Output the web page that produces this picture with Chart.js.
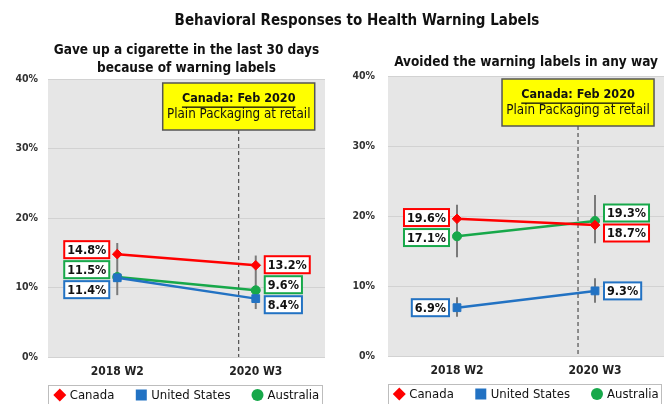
<!DOCTYPE html>
<html>
<head>
<meta charset="utf-8">
<script src="https://cdn.jsdelivr.net/npm/chart.js@4"></script>
<style>
  html, body { margin: 0; padding: 0; background: #fff; }
  #wrap { position: relative; width: 672px; height: 404px; overflow: hidden; }
  #title { position: absolute; left: 0; top: 11px; width: 714px; text-align: center;
           font: bold 15px "DejaVu Sans Condensed", "DejaVu Sans", sans-serif; color: #111; }
  .panel { position: absolute; top: 0; width: 336px; height: 404px; }
</style>
</head>
<body>
<div id="wrap">
  <div class="panel" style="left:0"><canvas id="chartLeft" width="336" height="404"></canvas></div>
  <div class="panel" style="left:336px"><canvas id="chartRight" width="336" height="404"></canvas></div>
  <div id="title">Behavioral Responses to Health Warning Labels</div>
</div>
<script>
const FONT = '"DejaVu Sans Condensed", "DejaVu Sans", sans-serif';

// survey waves
const waves = ['2018 W2', '2020 W3'];
const yTicks = [0, 10, 20, 30, 40];
const policyAt = 0.877; // Feb 2020, in wave units

// gave up a cigarette in the last 30 days (%)
const gaveUpCanada = [14.8, 13.2];
const gaveUpUS = [11.4, 8.4];
const gaveUpAustralia = [11.5, 9.6];
const gaveUpCI = [[[8.9, 16.4]], [[6.9, 14.6]]];

// avoided the warning labels in any way (%)
const avoidCanada = [19.6, 18.7];
const avoidUS = [6.9, 9.3];
const avoidAustralia = [17.1, 19.3];
const avoidCI = [[[14.1, 21.6], [5.6, 8.4]], [[16.1, 23.0], [7.6, 11.1]]];

const RED = '#ff0000', BLUE = '#2272c3', GREEN = '#17a84a';

Chart.defaults.font.family = FONT;
Chart.defaults.color = '#222';

const plotBg = {
  id: 'plotBg',
  beforeDraw(chart) {
    const a = chart.chartArea, ctx = chart.ctx;
    ctx.save();
    ctx.fillStyle = '#e6e6e6';
    ctx.fillRect(a.left, a.top, a.right - a.left, a.bottom - a.top);
    ctx.restore();
  }
};

// grey whiskers + policy marker
const extras = {
  id: 'extras',
  beforeDatasetsDraw(chart, args, opts) {
    const ctx = chart.ctx, x = chart.scales.x, y = chart.scales.y, a = chart.chartArea;
    ctx.save();
    // policy line
    const px = x.getPixelForValue(policyAt);
    const boxTop = a.top + opts.boxTop, boxH = 47, boxW = 152;
    ctx.strokeStyle = '#333';
    ctx.lineWidth = 1;
    ctx.setLineDash([4, 3]);
    ctx.beginPath();
    ctx.moveTo(px, boxTop + boxH);
    ctx.lineTo(px, a.bottom);
    ctx.stroke();
    ctx.setLineDash([]);
    // box
    const bx = px - boxW / 2;
    ctx.fillStyle = '#ffff00';
    ctx.fillRect(bx, boxTop, boxW, boxH);
    ctx.strokeStyle = '#555';
    ctx.lineWidth = 1.5;
    ctx.strokeRect(bx, boxTop, boxW, boxH);
    ctx.fillStyle = '#111';
    ctx.textAlign = 'center';
    ctx.textBaseline = 'middle';
    ctx.font = 'bold 12.5px ' + FONT;
    const t1 = 'Canada: Feb 2020';
    ctx.fillText(t1, px, boxTop + 16);
    const w1 = ctx.measureText(t1).width;
    ctx.fillRect(px - w1 / 2, boxTop + 23.5, w1, 1.3);
    ctx.font = '13.3px ' + FONT;
    ctx.fillText('Plain Packaging at retail', px, boxTop + 32);
    // whiskers
    ctx.strokeStyle = '#7a7a7a';
    ctx.lineWidth = 2;
    opts.ci.forEach((ranges, i) => {
      const cx = x.getPixelForValue(i);
      ranges.forEach(r => {
        ctx.beginPath();
        ctx.moveTo(cx, y.getPixelForValue(r[0]));
        ctx.lineTo(cx, y.getPixelForValue(r[1]));
        ctx.stroke();
      });
    });
    ctx.restore();
  }
};

function spread(items, gap) {
  let groups = items.map(it => ({ members: [it], c: it.y }));
  let merged = true;
  while (merged) {
    merged = false;
    for (let k = 0; k < groups.length - 1; k++) {
      const a = groups[k], b = groups[k + 1];
      const aBottom = a.c + (a.members.length - 1) * gap / 2;
      const bTop = b.c - (b.members.length - 1) * gap / 2;
      if (bTop - aBottom < gap) {
        const members = a.members.concat(b.members);
        const c = members.reduce((s, m) => s + m.y, 0) / members.length;
        groups.splice(k, 2, { members, c });
        merged = true;
        break;
      }
    }
  }
  groups.forEach(g => g.members.forEach((m, j) => {
    m.ly = g.c + (j - (g.members.length - 1) / 2) * gap;
  }));
}

const valueLabels = {
  id: 'valueLabels',
  afterDatasetsDraw(chart) {
    const ctx = chart.ctx;
    ctx.save();
    ctx.font = 'bold 12.5px ' + FONT;
    ctx.textAlign = 'center';
    ctx.textBaseline = 'middle';
    chart.data.labels.forEach((_, i) => {
      const items = chart.data.datasets.map((ds, d) => {
        const pt = chart.getDatasetMeta(d).data[i];
        return { x: pt.x, y: pt.y, v: ds.data[i], color: ds.borderColor };
      }).sort((p, q) => p.y - q.y);
      spread(items, 20);
      items.forEach(it => {
        const txt = it.v.toFixed(1) + '%';
        const w = ctx.measureText(txt).width + 6, h = 17;
        const bx = i === 0 ? it.x - 8 - w : it.x + 9;
        ctx.fillStyle = '#fff';
        ctx.fillRect(bx, it.ly - h / 2, w, h);
        ctx.strokeStyle = it.color;
        ctx.lineWidth = 2;
        ctx.strokeRect(bx, it.ly - h / 2, w, h);
        ctx.fillStyle = '#111';
        ctx.fillText(txt, bx + w / 2, it.ly + 1);
      });
    });
    ctx.restore();
  }
};

// framed legend under the plot, built from the datasets
const boxLegend = {
  id: 'boxLegend',
  afterDraw(chart) {
    const a = chart.chartArea, ctx = chart.ctx;
    const top = a.bottom + 28, cy = top + 10;
    ctx.save();
    ctx.strokeStyle = '#bdbdbd';
    ctx.lineWidth = 1;
    ctx.strokeRect(a.left + 0.5, top + 0.5, a.right - a.left - 3, 30);
    ctx.font = '13px ' + FONT;
    ctx.textBaseline = 'middle';
    ctx.textAlign = 'left';
    const items = chart.data.datasets.map(ds => ({
      text: ds.label, color: ds.borderColor, style: ds.pointStyle,
      w: ctx.measureText(ds.label).width
    }));
    const total = items.reduce((s, it) => s + 10 + it.w, 0) + 27 * (items.length - 1) + 6;
    let x = (a.left + a.right) / 2 - total / 2 + 6;
    items.forEach(it => {
      ctx.fillStyle = it.color;
      ctx.beginPath();
      if (it.style === 'rectRot') {
        ctx.moveTo(x, cy - 6.5); ctx.lineTo(x + 6.5, cy);
        ctx.lineTo(x, cy + 6.5); ctx.lineTo(x - 6.5, cy);
        ctx.closePath();
      } else if (it.style === 'rect') {
        ctx.rect(x - 5.5, cy - 5.5, 11, 11);
      } else {
        ctx.arc(x, cy, 6, 0, Math.PI * 2);
      }
      ctx.fill();
      ctx.fillStyle = '#111';
      ctx.fillText(it.text, x + 10, cy + 0.5);
      x += 10 + it.w + 27;
    });
    ctx.restore();
  }
};

function makeChart(id, title, canada, us, australia, ci, pad, titlePad, boxTop) {
  const series = [
    { label: 'Canada', data: canada, color: RED, style: 'rectRot', r: 4.8 },
    { label: 'United States', data: us, color: BLUE, style: 'rect', r: 5.5 },
    { label: 'Australia', data: australia, color: GREEN, style: 'circle', r: 4.5 }
  ];
  return new Chart(document.getElementById(id), {
    type: 'line',
    data: {
      labels: waves,
      datasets: series.map(s => ({
        label: s.label,
        data: s.data,
        borderColor: s.color,
        backgroundColor: s.color,
        pointBackgroundColor: s.color,
        pointBorderColor: s.color,
        pointStyle: s.style,
        pointRadius: s.r,
        pointBorderWidth: 1,
        borderWidth: 2.5,
        tension: 0,
        fill: false
      }))
    },
    options: {
      responsive: false,
      animation: false,
      layout: { padding: pad },
      scales: {
        x: {
          offset: true,
          grid: { display: false, drawTicks: false },
          border: { display: false },
          ticks: { padding: 8, color: '#222', font: { size: 12, weight: 'bold' } },
          afterFit: s => { s.height = 22; }
        },
        y: {
          min: 0,
          max: 40,
          afterBuildTicks: s => { s.ticks = yTicks.map(v => ({ value: v })); },
          grid: { color: '#d2d2d2', drawTicks: false },
          border: { display: false },
          ticks: { padding: pad.tickPad, color: '#333', font: { size: 10.5, weight: 'bold' },
                   callback: v => v + '%' },
          afterFit: s => { s.width = pad.axisW; }
        }
      },
      plugins: {
        title: {
          display: true,
          text: title,
          fullSize: false,
          color: '#111',
          font: { size: 13.5, weight: 'bold', lineHeight: 18 / 13.5 },
          padding: titlePad
        },
        legend: { display: false },
        tooltip: { enabled: false },
        extras: { ci: ci, boxTop: boxTop }
      }
    },
    plugins: [plotBg, extras, valueLabels, boxLegend]
  });
}

makeChart('chartLeft',
  ['Gave up a cigarette in the last 30 days', 'because of warning labels'],
  gaveUpCanada, gaveUpUS, gaveUpAustralia, gaveUpCI,
  { top: 36, left: 8, right: 11, bottom: 25, axisW: 40, tickPad: 10 },
  { top: 5, bottom: 2 }, 4);

makeChart('chartRight',
  'Avoided the warning labels in any way',
  avoidCanada, avoidUS, avoidAustralia, avoidCI,
  { top: 36, left: 8, right: 8, bottom: 26, axisW: 44, tickPad: 13 },
  { top: 17, bottom: 5 }, 3);
</script>
</body>
</html>
